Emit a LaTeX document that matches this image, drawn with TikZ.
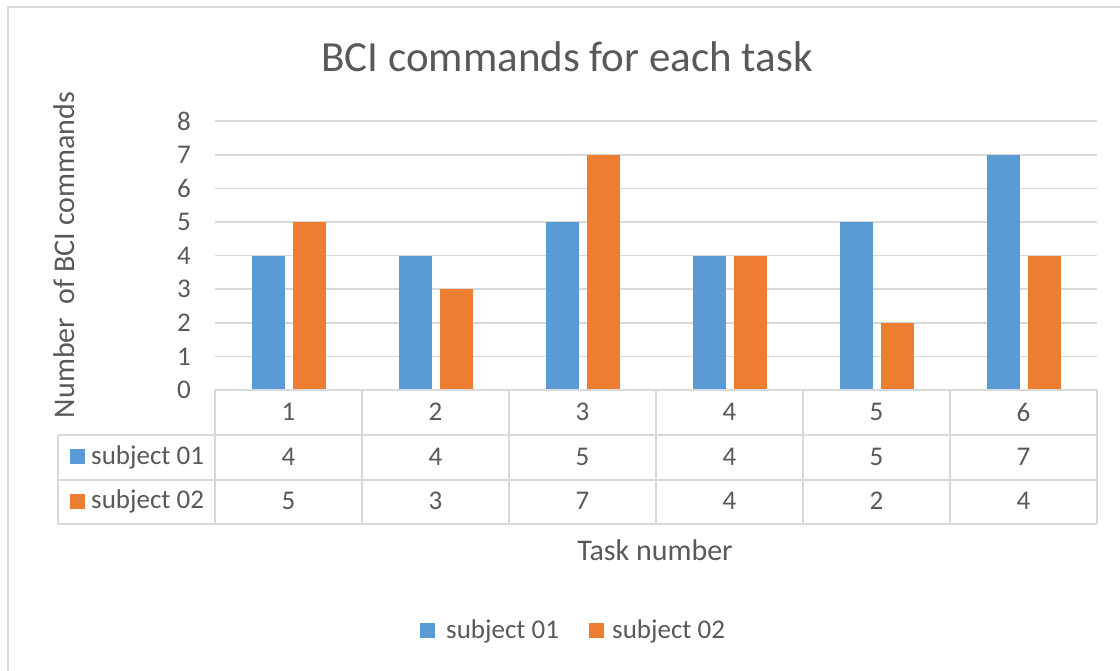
\documentclass[tikz,border=0pt]{standalone}
\usepackage{fontspec}
\setmainfont{Carlito}
\definecolor{barblue}{HTML}{5B9BD5}
\definecolor{barorange}{HTML}{ED7D31}
\definecolor{gridgrey}{HTML}{D9D9D9}
\definecolor{textgrey}{HTML}{595959}
\tikzset{
  gridline/.style = {draw=gridgrey, line width=1.6pt},
  framebox/.style = {draw=gridgrey, line width=2.2pt},
  labeltext/.style = {text=textgrey, inner sep=0pt, font=\fontsize{27}{32}\selectfont},
  axistext/.style = {text=textgrey, inner sep=0pt, font=\fontsize{30}{36}\selectfont},
}
\begin{document}
\begin{tikzpicture}[x=1pt, y=-1pt]
  \useasboundingbox (0,0) rectangle (1120,670);
  \fill[white] (0,0) rectangle (1120,670);
  % chart frame, runs off the right and bottom edges
  \draw[framebox] (8,680) -- (8,7) -- (1130,7);
  % title
  \node[text=textgrey, inner sep=0pt, font=\fontsize{43}{50}\selectfont] (title) at (567,57) {BCI commands for each task};
  % grid lines and ticks
  \foreach \k in {1,...,8} {
    \draw[gridline] (215,{390-33.6*\k}) -- (1097,{390-33.6*\k});
  }
  \foreach \k in {0,...,8} {
    \node[labeltext, anchor=east] (tick\k) at (191,{390-33.6*\k}) {\k};
  }
  % bars
  \foreach \i/\a/\b in {1/4/5, 2/4/3, 3/5/7, 4/4/4, 5/5/2, 6/7/4} {
    \pgfmathsetmacro\cx{215+147*(\i-0.5)}
    \fill[barblue] ({\cx-37},390) rectangle ({\cx-3.5},{390-33.6*\a});
    \fill[barorange] ({\cx+4},390) rectangle ({\cx+37.5},{390-33.6*\b});
  }
  % data table
  \draw[gridline] (215,390) -- (1097,390);
  \foreach \y in {435,480,524} {
    \draw[gridline] (58,\y) -- (1097,\y);
  }
  \draw[gridline] (58,435) -- (58,524);
  \foreach \c in {0,...,6} {
    \draw[gridline] ({215+147*\c},390) -- ({215+147*\c},524);
  }
  \foreach \i/\a/\b in {1/4/5, 2/4/3, 3/5/7, 4/4/4, 5/5/2, 6/7/4} {
    \pgfmathsetmacro\cx{215+147*(\i-0.5)}
    \node[labeltext] (task\i) at (\cx,412) {\i};
    \node[labeltext] (sa\i) at (\cx,457) {\a};
    \node[labeltext] (sb\i) at (\cx,501) {\b};
  }
  \fill[barblue] (70,449) rectangle (85,464);
  \node[labeltext, anchor=west] (rowa) at (91,457) {subject 01};
  \fill[barorange] (70,494) rectangle (85,509);
  \node[labeltext, anchor=west] (rowb) at (91,501) {subject 02};
  % axis titles
  \node[axistext, rotate=90] (ytitle) at (64,255) {Number\ \ of BCI commands};
  \node[axistext] (xtitle) at (655,550) {Task number};
  % legend
  \fill[barblue] (420,623) rectangle (435,638);
  \node[labeltext, anchor=west] (lega) at (446,631) {subject 01};
  \fill[barorange] (589,623) rectangle (604,638);
  \node[labeltext, anchor=west] (legb) at (612,631) {subject 02};
\end{tikzpicture}
\end{document}
